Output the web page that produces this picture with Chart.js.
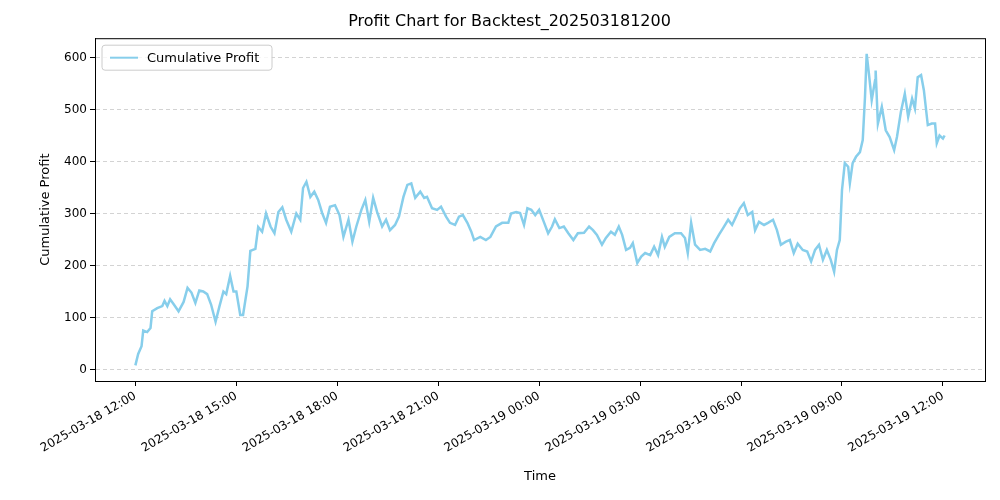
<!DOCTYPE html>
<html>
<head>
<meta charset="utf-8">
<script src="https://cdn.jsdelivr.net/npm/chart.js@4"></script>
<style>body{margin:0;background:#fff}#wrap{width:1000px;height:500px}</style>
</head>
<body>
<div id="wrap"><canvas id="c"></canvas></div>
<script>
// minutes since 2025-03-18 12:00
const minutes = [0,5,11,14,21,27,30,39,48,52,57,62,68,77,86,93,100,107,114,121,128,135,143,150,157,162,169,175,180,187,192,200,205,214,219,226,233,241,248,255,262,269,278,287,294,299,305,312,319,326,333,340,347,356,364,371,380,387,394,403,410,417,424,431,440,447,454,463,470,478,485,492,499,508,515,520,529,538,545,554,561,570,577,584,592,599,604,615,625,633,643,654,665,670,679,686,693,699,706,713,720,729,736,743,748,756,764,772,781,789,800,809,816,823,832,839,848,855,862,868,875,882,887,895,902,909,918,925,932,939,944,952,962,973,980,985,991,998,1007,1016,1025,1032,1041,1048,1057,1064,1071,1078,1085,1092,1100,1105,1112,1121,1128,1137,1144,1151,1160,1167,1174,1181,1190,1198,1205,1212,1219,1226,1233,1240,1246,1251,1256,1260,1265,1271,1274,1279,1285,1292,1297,1301,1304,1308,1313,1319,1320,1324,1331,1338,1345,1353,1358,1365,1372,1378,1385,1390,1395,1401,1406,1413,1420,1426,1429,1434,1440,1443];
const profit = [8,30,45,75,72,80,112,118,122,132,122,135,126,112,130,157,148,128,152,150,145,125,92,122,150,145,180,150,150,105,105,160,228,232,274,265,300,275,262,303,312,288,265,300,288,349,361,332,342,326,301,282,313,316,297,255,288,246,275,307,326,284,330,303,275,288,268,278,294,332,355,358,330,342,330,332,310,307,313,294,282,278,294,297,282,265,249,255,249,255,275,282,282,300,303,301,278,310,307,297,307,282,262,275,289,272,275,262,249,262,263,275,268,259,240,253,265,259,275,259,230,234,243,205,217,224,220,236,220,255,236,255,262,262,253,224,282,240,230,232,227,243,260,272,288,278,294,310,320,297,303,268,284,278,282,288,268,240,246,249,224,242,230,227,208,230,240,211,230,211,188,230,249,345,397,390,358,397,409,418,441,524,607,569,518,556,575,473,505,460,447,422,447,495,530,486,521,502,562,566,537,470,473,473,435,450,444,450];
const tickMinutes = [0,180,360,540,720,900,1080,1260,1440];
const tickLabels = ['2025-03-18 12:00','2025-03-18 15:00','2025-03-18 18:00','2025-03-18 21:00','2025-03-19 00:00','2025-03-19 03:00','2025-03-19 06:00','2025-03-19 09:00','2025-03-19 12:00'];
const yTicks = [0,100,200,300,400,500,600];

const frame = {
  id: 'frame',
  afterDraw(chart) {
    const {ctx, chartArea: a} = chart;
    ctx.save();
    ctx.strokeStyle = '#000';
    ctx.lineWidth = 1;
    ctx.strokeRect(a.left + 0.5, a.top + 0.5, a.right - a.left, a.bottom - a.top);
    // legend box
    const x = a.left + 7, y = a.top + 7;
    ctx.fillStyle = 'rgba(255,255,255,0.8)';
    ctx.strokeStyle = '#ccc';
    ctx.beginPath();
    ctx.roundRect(x, y, 170, 25, 3);
    ctx.fill(); ctx.stroke();
    ctx.strokeStyle = '#87CEEB';
    ctx.lineWidth = 2;
    ctx.beginPath(); ctx.moveTo(x + 8, y + 12.5); ctx.lineTo(x + 36, y + 12.5); ctx.stroke();
    ctx.fillStyle = '#000';
    ctx.font = '13px "DejaVu Sans"';
    ctx.textBaseline = 'middle';
    ctx.fillText('Cumulative Profit', x + 45, y + 13);
    ctx.restore();
  }
};

new Chart(document.getElementById('c'), {
  type: 'line',
  data: {
    datasets: [{
      label: 'Cumulative Profit',
      data: minutes.map((m, i) => ({x: m, y: profit[i]})),
      borderColor: '#87CEEB',
      borderWidth: 2.5,
      pointRadius: 0,
      tension: 0,
    }],
  },
  plugins: [frame],
  options: {
    responsive: true,
    maintainAspectRatio: false,
    animation: false,
    layout: {padding: {left: 34, right: 15, top: 0, bottom: 12}},
    plugins: {
      legend: {display: false},
      tooltip: {enabled: false},
      title: {
        display: true,
        text: 'Profit Chart for Backtest_202503181200',
        color: '#000',
        font: {family: 'DejaVu Sans', size: 16, weight: 'normal'},
        padding: {top: 12, bottom: 7},
      },
    },
    scales: {
      x: {
        type: 'linear',
        min: -72, max: 1515,
        afterBuildTicks: s => { s.ticks = tickMinutes.map(v => ({value: v})); },
        afterFit: s => { s.height = 107; },
        ticks: {
          callback: (v) => tickLabels[tickMinutes.indexOf(v)],
          minRotation: 30, maxRotation: 30,
          color: '#000',
          font: {family: 'DejaVu Sans', size: 12},
        },
        grid: {drawOnChartArea: false, color: '#000', tickLength: 5},
        border: {color: '#000'},
        title: {display: true, text: 'Time', color: '#000', font: {family: 'DejaVu Sans', size: 13}, padding: {top: 0}},
      },
      y: {
        min: -22, max: 637,
        afterBuildTicks: s => { s.ticks = yTicks.map(v => ({value: v})); },
        afterFit: s => { s.width = 61; },
        ticks: {color: '#000', font: {family: 'DejaVu Sans', size: 12}},
        grid: {color: '#d3d3d3', tickColor: '#000', tickLength: 5},
        border: {color: '#000', dash: [4, 3]},
        title: {display: true, text: 'Cumulative Profit', color: '#000', font: {family: 'DejaVu Sans', size: 13}},
      },
    },
  },
});
</script>
</body>
</html>
